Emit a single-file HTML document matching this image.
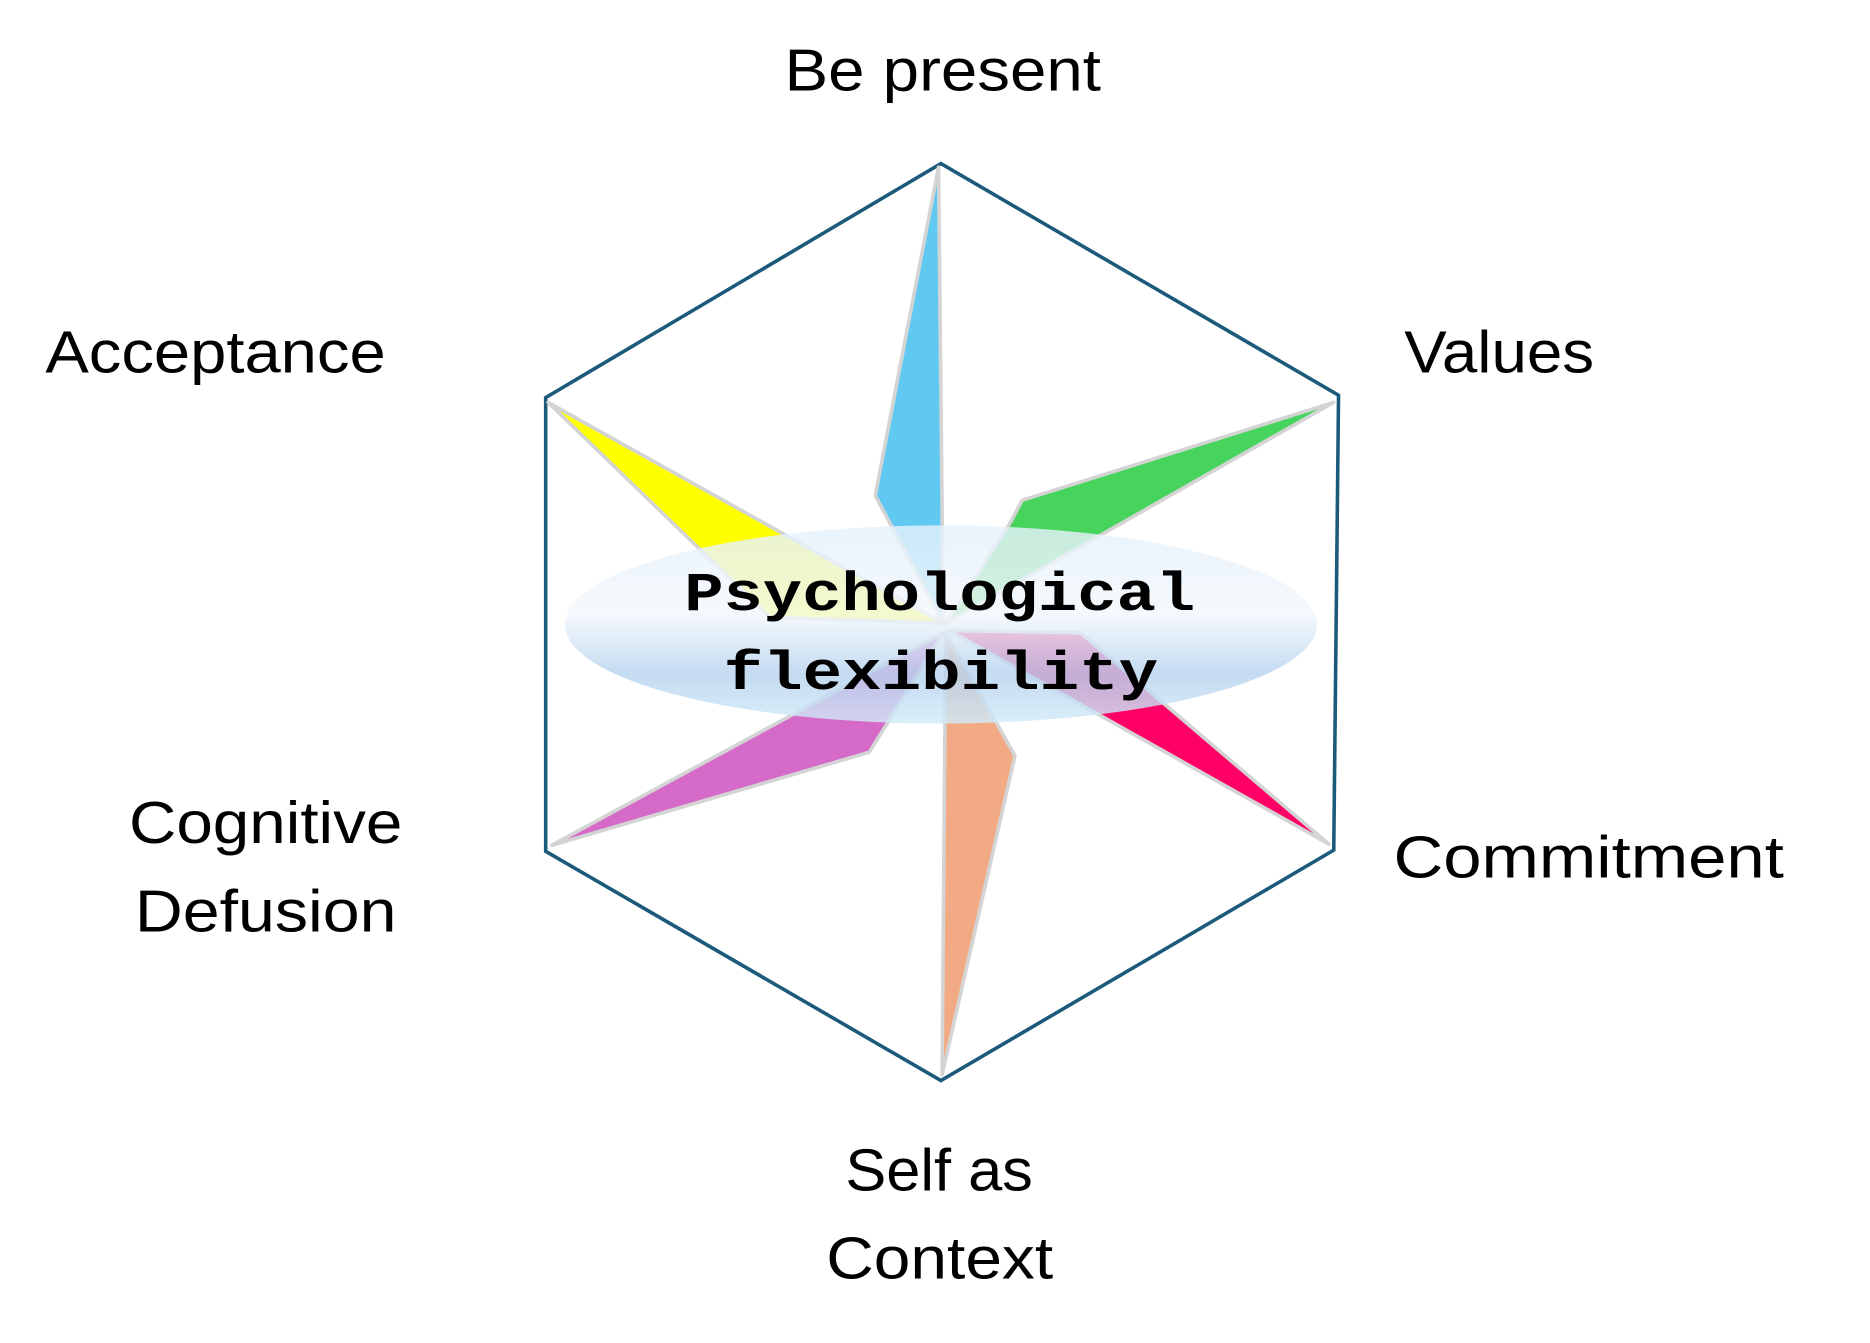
<!DOCTYPE html>
<html><head><meta charset="utf-8"><style>html,body{margin:0;padding:0;background:#fff}svg{display:block}</style></head>
<body>
<svg width="1870" height="1343" viewBox="0 0 1566.1 1124.8" preserveAspectRatio="none" xmlns="http://www.w3.org/2000/svg">
<defs>
<linearGradient id="g" x1="0" y1="0" x2="0" y2="1">
<stop offset="0" stop-color="#e4f1fb"/>
<stop offset="0.45" stop-color="#f3f8fc"/>
<stop offset="0.75" stop-color="#b7d3ee"/>
<stop offset="1" stop-color="#d2ebf8"/>
</linearGradient>
</defs>
<polygon points="788,137 1121,331 1117,712 788,905 457,713 457,333" fill="none" stroke="#1c5a7c" stroke-width="3"/>
<g stroke="#d4d4d4" stroke-width="3" stroke-linejoin="round">
<polygon points="790,522 733,415 786,140" fill="#5fc9f2"/>
<polygon points="792,522 846,438 856,419 1117,337" fill="#46d45c"/>
<polygon points="459,337 790,522 645,517" fill="#ffff00"/>
<polygon points="795,528 905,530 1113,707" fill="#ff0066"/>
<polygon points="792,530 850,633 789,900" fill="#f2aa84"/>
<polygon points="790,530 728,630 462,708" fill="#d66ac8"/>
</g>
<ellipse cx="788" cy="523" rx="315" ry="83" fill="url(#g)" opacity="0.82"/>
<g font-family="'Liberation Mono','Courier New',monospace" font-weight="bold" font-size="46" fill="#000" text-anchor="middle">
<text x="787" y="511" textLength="428" lengthAdjust="spacingAndGlyphs">Psychological</text>
<text x="788" y="577" textLength="364" lengthAdjust="spacingAndGlyphs">flexibility</text>
</g>
<g font-family="'Liberation Sans',sans-serif" font-size="50" fill="#000">
<text x="657" y="76" textLength="265" lengthAdjust="spacingAndGlyphs">Be present</text>
<text x="38" y="312" textLength="285" lengthAdjust="spacingAndGlyphs">Acceptance</text>
<text x="1176" y="312" textLength="159" lengthAdjust="spacingAndGlyphs">Values</text>
<text x="1167" y="735" textLength="327" lengthAdjust="spacingAndGlyphs">Commitment</text>
<text x="108" y="706" textLength="229" lengthAdjust="spacingAndGlyphs">Cognitive</text>
<text x="113" y="780" textLength="219" lengthAdjust="spacingAndGlyphs">Defusion</text>
<text x="708" y="997" textLength="157" lengthAdjust="spacingAndGlyphs">Self as</text>
<text x="692" y="1071" textLength="190" lengthAdjust="spacingAndGlyphs">Context</text>
</g>
</svg>
</body></html>
